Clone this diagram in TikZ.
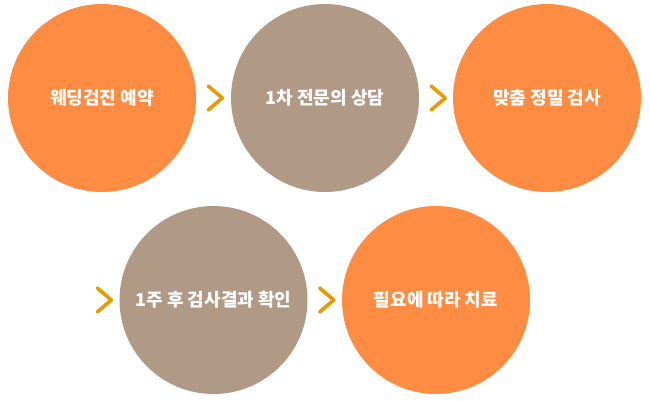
\documentclass[tikz,border=0pt]{standalone}
\usepackage{fontspec}
\newfontfamily\kr{Noto Sans CJK KR}
\usetikzlibrary{positioning}
\definecolor{stepOrange}{HTML}{FE8D43}
\definecolor{stepTaupe}{HTML}{B09A86}
\definecolor{chevGold}{HTML}{E89B00}
\tikzset{
  stepcircle/.style={circle, minimum size=188pt, inner sep=0pt, text=white, font=\kr\bfseries\fontsize{18}{21}\selectfont},
  orangestep/.style={stepcircle, fill=stepOrange},
  taupestep/.style={stepcircle, fill=stepTaupe},
  chev/.style={line width=3.6pt, color=chevGold, line cap=round, line join=round}
}

\begin{document}
\begin{tikzpicture}[x=1pt, y=-1pt]
		%%%%% START %%%%%
		\useasboundingbox (0, 0) rectangle (650, 400);
		
		\node[orangestep] (wedding) at (102, 98) {웨딩검진 예약};
		\node[taupestep] (consult) at (325, 98) {1차 전문의 상담};
		\node[orangestep] (exam) at (547, 98) {맞춤 정밀 검사};
		
		\node[taupestep] (result) at (213.5, 300) {1주 후 검사결과 확인};
		\node[orangestep] (treat) at (436, 300) {필요에 따라 치료};
		
		\draw[chev] ([xshift=12pt, yshift=12pt]wedding.east) -- ++(14, 12) -- ++(-14, 12);
		\draw[chev] ([xshift=12pt, yshift=12pt]consult.east) -- ++(14, 12) -- ++(-14, 12);
		
		\draw[chev] ([xshift=-22pt, yshift=12pt]result.west) -- ++(14, 12) -- ++(-14, 12);
		\draw[chev] ([xshift=12pt, yshift=12pt]result.east) -- ++(14, 12) -- ++(-14, 12);
		
		%%%%% END %%%%%
	\end{tikzpicture}
\end{document}
